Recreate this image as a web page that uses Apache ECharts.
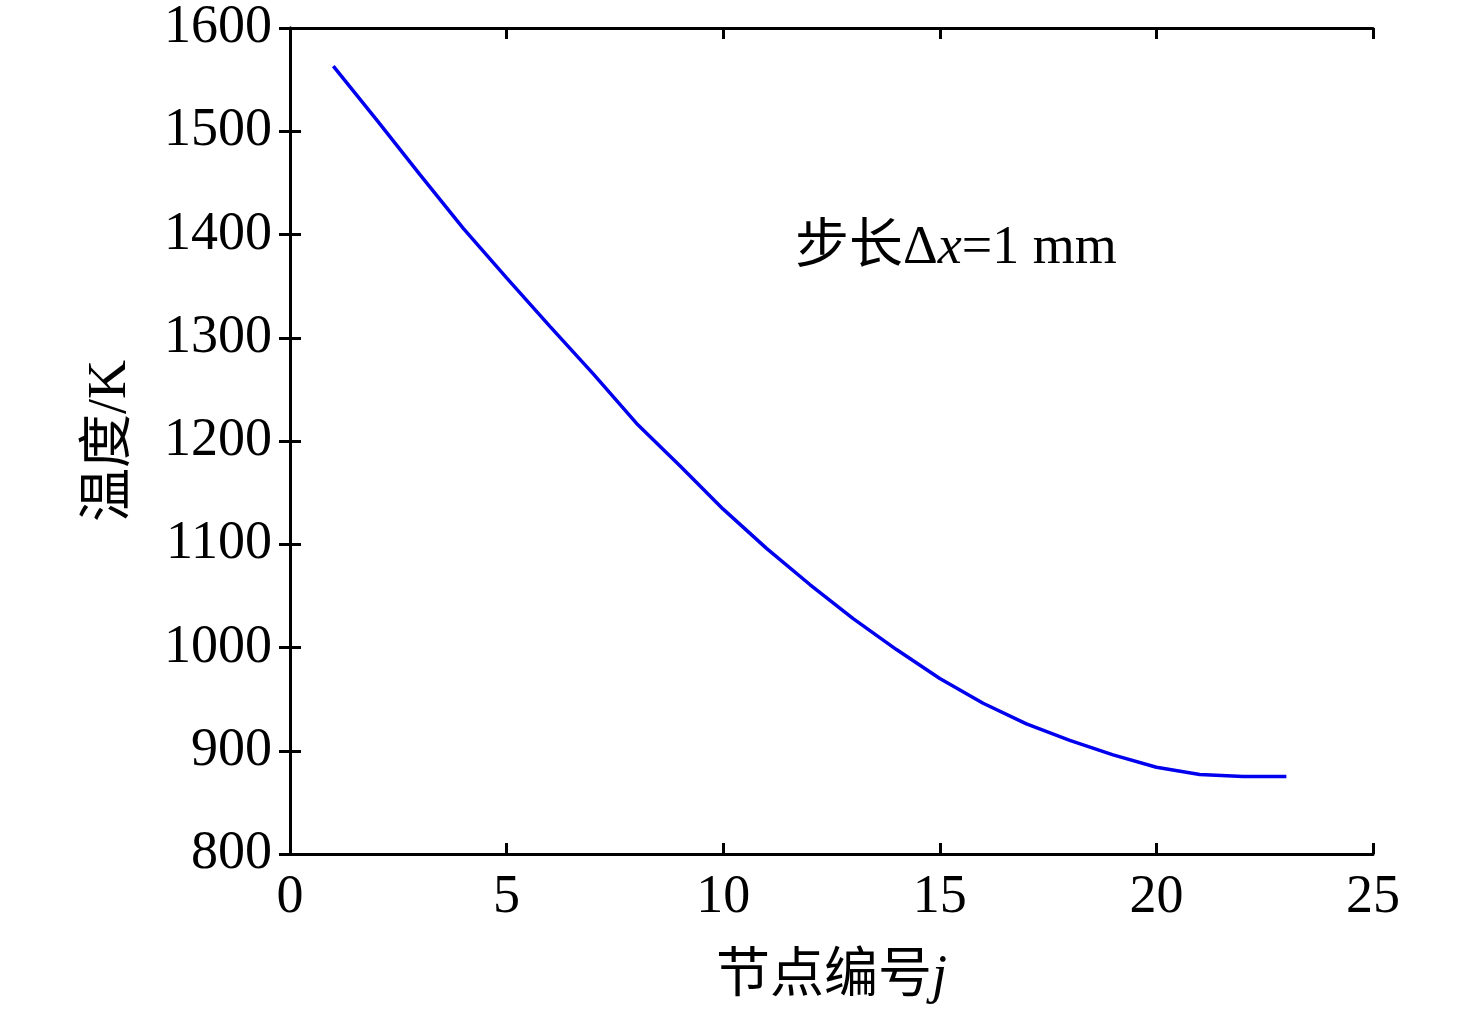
<!DOCTYPE html>
<html>
<head>
<meta charset="utf-8">
<script src="https://cdn.jsdelivr.net/npm/echarts@6/dist/echarts.min.js"></script>
<style>html,body{margin:0;padding:0;background:#fff}#c{width:1476px;height:1015px}</style>
</head>
<body>
<div id="c"></div>
<script>
var nodeIndex = [1,2,3,4,5,6,7,8,9,10,11,12,13,14,15,16,17,18,19,20,21,22,23];
var temperature = [1563,1511,1458,1406,1358,1311,1265,1217,1176,1134,1096,1061,1028,998,970,946,926,910,896,884,877,875,875];
var xTicks = [0,5,10,15,20,25];
var yTicks = [800,900,1000,1100,1200,1300,1400,1500,1600];

var FONT = '"Liberation Serif", "Times New Roman", "Noto Sans CJK SC", serif';
var chart = echarts.init(document.getElementById('c'));
function axisCommon(extra) {
  return Object.assign({
    axisLine: {show: true, lineStyle: {color: '#000', width: 3}},
    axisTick: {show: true, inside: true, length: 11, lineStyle: {color: '#000', width: 3}},
    splitLine: {show: false}
  }, extra);
}
function plain(v) { return String(v); }
chart.setOption({
  animation: false,
  backgroundColor: '#fff',
  grid: {left: 290, top: 28, right: 103, bottom: 161, containLabel: false},
  xAxis: [
    axisCommon({type: 'value', position: 'bottom', min: xTicks[0], max: xTicks[xTicks.length-1], interval: 5,
      name: '节点编号{i|j}', nameLocation: 'middle', nameGap: 97,
      nameTextStyle: {fontFamily: FONT, fontSize: 54, color: '#000', rich: {i: {fontFamily: FONT, fontStyle: 'italic', fontSize: 54, color: '#000'}}},
      axisLabel: {fontFamily: FONT, fontSize: 54, color: '#000', margin: 17, formatter: plain}}),
    axisCommon({type: 'value', position: 'top', min: xTicks[0], max: xTicks[xTicks.length-1], interval: 5,
      axisLabel: {show: false}})
  ],
  yAxis: [
    axisCommon({type: 'value', position: 'left', min: yTicks[0], max: yTicks[yTicks.length-1], interval: 100,
      name: '温度/K', nameLocation: 'middle', nameGap: 152, nameRotate: 90,
      nameTextStyle: {fontFamily: FONT, fontSize: 54, color: '#000'},
      axisLabel: {fontFamily: FONT, fontSize: 54, color: '#000', margin: 18, formatter: plain}}),
    axisCommon({type: 'value', position: 'right', min: yTicks[0], max: yTicks[yTicks.length-1], interval: 100,
      axisLabel: {show: false}})
  ],
  graphic: [{
    type: 'text', left: 795, top: 222,
    style: {
      text: '步长Δ{i|x}=1 mm',
      font: '54px ' + FONT,
      fill: '#000',
      rich: {i: {fontFamily: FONT, fontStyle: 'italic', fontSize: 54, fill: '#000'}}
    }
  }],
  series: [{
    type: 'line',
    data: nodeIndex.map(function(x, i){ return [x, temperature[i]]; }),
    showSymbol: false,
    lineStyle: {color: '#0000ee', width: 3.5},
    smooth: false
  }]
});
</script>
</body>
</html>
